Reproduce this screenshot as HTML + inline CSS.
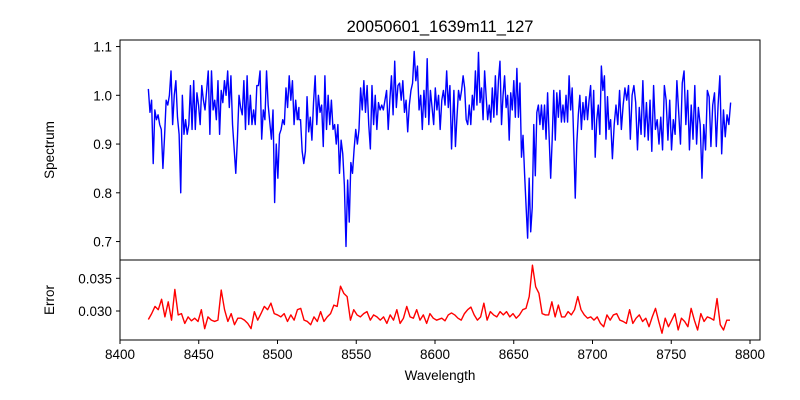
<!DOCTYPE html>
<html><head><meta charset="utf-8"><style>
body{margin:0;background:#fff;}
svg{display:block;font-family:"Liberation Sans","DejaVu Sans",sans-serif;}
</style></head><body>
<svg id="chart" width="800" height="400" viewBox="0 0 800 400">
<rect width="800" height="400" fill="#fff"/>
<text x="440" y="32" font-size="16.5" text-anchor="middle">20050601_1639m11_127</text>
<g id="plots"></g>
<rect x="120" y="40" width="640" height="220" fill="none" stroke="#000" stroke-width="1"/>
<rect x="120" y="260" width="640" height="80" fill="none" stroke="#000" stroke-width="1"/>
<g id="ticks" font-size="13.5" fill="#000"></g>
<text transform="translate(54,150) rotate(-90)" font-size="13.5" text-anchor="middle">Spectrum</text>
<text transform="translate(54,300) rotate(-90)" font-size="13.5" text-anchor="middle">Error</text>
<text x="440" y="380" font-size="13.5" text-anchor="middle">Wavelength</text>
</svg>
<script>
const fluxA=[1.013,0.965,0.99,0.86,0.97,0.95,0.96,0.94,0.93,0.85,0.915,0.99,0.98,1.0,1.05,0.94,1.0,1.03,0.955,0.92,0.80,1.0,0.92,0.95,0.92,0.94,1.02,0.93,1.03,0.93,1.005,0.98,0.94,1.02,0.99,0.97,1.01,1.05,0.92,1.05,0.97,0.99,0.95,1.03,0.92,1.01,0.985,1.03,1.0,1.05,0.975,1.04,0.94,0.89,0.84,0.91,1.0,0.975,0.96,1.03,0.93,1.04,0.94,1.0,0.94,0.97,0.94,1.02,1.02,1.05,0.91,0.97,0.95,1.05,0.98,0.945,0.91,0.97,0.78,0.9,0.83,0.92,0.93,0.95,0.94,1.015,0.975,1.04,0.99,1.03,0.94,0.99,0.95,0.975];
const fluxB=[0.95,0.95,0.885,0.86,0.885,0.997,0.925,0.955,0.908,0.985,1.04,0.94,1.0,0.965,0.98,0.895,1.04,0.93,1.0,0.94,0.99,0.93,0.94,0.9,0.94,0.84,0.908,0.88,0.815,0.69,0.826,0.74,0.862,0.84,0.89,0.93,0.9,0.93,1.015,0.97,1.03,0.965,1.02,0.94,0.89,1.02,0.94,1.0,0.93,0.985,0.97,0.98,0.97,0.99,1.01,0.93,0.99,1.04,0.96,1.07,0.975,1.02,1.025,0.99,1.03,0.965,0.99,0.925,0.98,1.01,1.025,1.09,1.03,1.06,0.97,1.0,0.93,1.01,0.955,1.075,0.94,1.01,0.975,0.94,1.015,0.97,1.0,0.93,0.99,1.01,0.98,1.05,0.975,1.02,0.89];
const fluxC=[1.01,0.895,0.955,1.01,0.99,1.01,1.04,1.015,0.95,0.94,0.98,0.94,1.0,0.97,1.05,0.98,1.088,0.985,1.015,0.95,1.05,0.997,0.95,0.98,0.945,1.015,0.955,1.04,0.96,1.03,1.07,0.94,1.0,1.04,0.975,1.0,0.908,1.005,0.97,1.03,0.955,1.055,0.955,1.025,0.873,0.918,0.84,0.772,0.707,0.83,0.72,0.77,0.94,0.835,0.965,0.98,0.94,0.98,0.93,0.98,0.91,1.005,0.915,0.83,0.91,1.01,0.908,1.005,0.955,1.01,0.945,0.98,0.945,1.0,0.945,1.04,0.97,1.015,0.908,0.789,0.9,0.96,1.0,0.93,0.985,0.95,0.997,0.95,0.99,1.02,0.93,1.01,0.873,0.95,0.98,0.92,1.06,1.01,1.04,0.91,0.997,0.93];
const fluxD=[0.95,0.87,0.94,0.98,0.94,1.01,0.93,0.98,1.015,0.99,1.02,0.91,1.0,1.02,0.985,0.888,0.975,0.92,1.03,0.915,0.985,0.908,0.99,0.885,1.02,0.93,0.95,0.9,0.955,0.888,1.02,0.99,0.908,0.99,0.888,0.95,0.92,1.03,0.965,0.9,1.025,1.05,0.94,1.01,0.888,0.98,0.91,1.02,0.9,0.975,0.94,0.83,0.94,0.888,1.01,0.997,0.895,0.98,1.005,0.895,0.98,1.04,0.88,0.97,0.915,0.96,0.94,0.985];
const fluxSpans=[[8418,8513.6],[8513.6,8610.5],[8612,8710.5],[8711.5,8787.7]];
const errA=[.0287,.0296,.0307,.0302,.0318,.0291,.0314,.0286,.0333,.0294,.0296,.0281,.0291,.0285,.0289,.0284,.0302,.0273,.0291,.0286,.0284,.0286,.0332,.0302,.0284,.0296,.0279,.0289,.0289,.0286,.0281,.0273,.0299,.0286,.0296,.0307,.0302,.0312,.0296,.0294,.0291,.0296,.0284,.0294,.0286,.0302,.0304,.0286,.0284,.0279,.0291,.0284,.0299,.0284,.0291,.0296,.0309,.0307,.0338,.0327,.0322,.0286,.0302,.0294,.0291,.0296,.0299,.0286,.0294,.0291,.0286,.0291,.0281,.0294,.0286,.0302,.0281,.0289,.0307,.0291,.0289,.0302,.0286,.0294,.0281,.0296,.0289,.0286];
const errB=[.0289,.0285,.0294,.0297,.0294,.0289,.0286,.0296,.0302,.0306,.0294,.0286,.0291,.0312,.0286,.0299,.0294,.0291,.0299,.0294,.0299,.0291,.0296,.0289,.0294,.0302,.0304,.0322,.0370,.0337,.0327,.0296,.0294,.0294,.0314,.0291,.0309,.0291,.0291,.0299,.0294,.0302,.0322,.0302,.0294,.0289,.0291,.0286,.0291,.0281,.0276,.0294,.0286,.0294,.0296,.0286,.0284,.0281,.0302,.0281,.0289,.0294,.0284,.0289,.0276,.0291,.0304,.0284,.0266,.0289,.0276,.0286,.0296,.0271,.0289,.0284,.0276,.0304,.0286,.0271,.0296,.0284,.0291,.0289,.0286,.0319,.0279,.0271,.0286,.0286];
const errSpans=[[8418,8601],[8604.3,8787.3]];
const xTicks=[8400,8450,8500,8550,8600,8650,8700,8750,8800];
const fluxTicks=[0.7,0.8,0.9,1.0,1.1];
const errTicks=[0.030,0.035];

const NS="http://www.w3.org/2000/svg";
const xs=w=>120+(w-8400)*1.575;
const yF=v=>95.3-(v-1.0)*487.5;
const yE=v=>311-(v-0.030)*6540;
function pts(segs,spans,yf){
  const out=[];
  segs.forEach((arr,i)=>{const [a,b]=spans[i];const n=arr.length;
    arr.forEach((v,j)=>{const w=a+(b-a)*(n>1?j/(n-1):0);out.push(xs(w).toFixed(2)+","+yf(v).toFixed(2));});});
  return out.join(" ");
}
const plots=document.getElementById('plots');
const p1=document.createElementNS(NS,'polyline');
p1.setAttribute('points',pts([fluxA,fluxB,fluxC,fluxD],fluxSpans,yF));
p1.setAttribute('fill','none');p1.setAttribute('stroke','#0000ff');p1.setAttribute('stroke-width','1.4');p1.setAttribute('stroke-linejoin','round');


plots.appendChild(p1);
const p2=document.createElementNS(NS,'polyline');
p2.setAttribute('points',pts([errA,errB],errSpans,yE));
p2.setAttribute('fill','none');p2.setAttribute('stroke','#ff0000');p2.setAttribute('stroke-width','1.4');p2.setAttribute('stroke-linejoin','round');


plots.appendChild(p2);

const tg=document.getElementById('ticks');
function line(x1,y1,x2,y2){const l=document.createElementNS(NS,'line');l.setAttribute('x1',x1);l.setAttribute('y1',y1);l.setAttribute('x2',x2);l.setAttribute('y2',y2);l.setAttribute('stroke','#000');l.setAttribute('stroke-width','1');


tg.appendChild(l);}
function txt(x,y,s,anchor){const t=document.createElementNS(NS,'text');t.setAttribute('x',x);t.setAttribute('y',y);t.setAttribute('text-anchor',anchor);t.textContent=s;


tg.appendChild(t);}
xTicks.forEach(w=>{const x=xs(w);line(x,340,x,344);txt(x,359,String(w),'middle');});
fluxTicks.forEach(v=>{const y=yF(v);line(116,y,120,y);txt(112,y+5,v.toFixed(1),'end');});
errTicks.forEach(v=>{const y=yE(v);line(116,y,120,y);txt(112,y+5,v.toFixed(3),'end');});
</script>
</body></html>
